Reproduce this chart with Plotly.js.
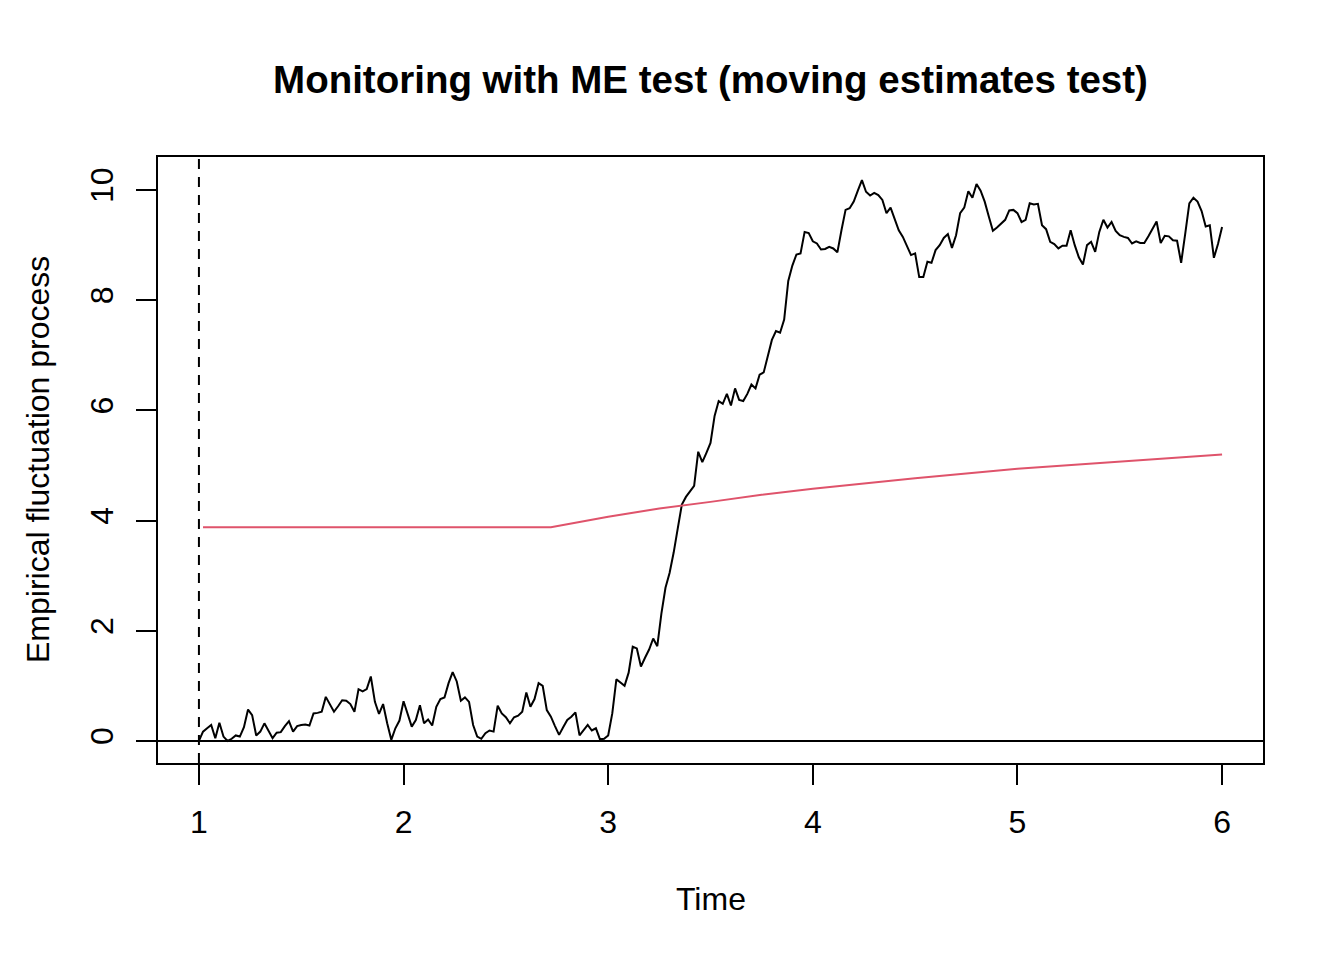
<!DOCTYPE html>
<html>
<head>
<meta charset="utf-8">
<script src="https://cdn.plot.ly/plotly-3.0.1.min.js"></script>
<style>
  body { margin: 0; background: #fff; }
</style>
</head>
<body>
<div id="chart" style="width:1344px;height:960px;"></div>
<script>
// monitoring period: starts at t = 1, 50 observations per time unit
var startTime = 1;
var frequency = 50;

// empirical fluctuation process
var fluctuation = [
  0, 0.17, 0.23, 0.29, 0.05, 0.33, 0.08, 0.0, 0.04, 0.1,
  0.08, 0.25, 0.57, 0.47, 0.1, 0.17, 0.32, 0.17, 0.05, 0.15,
  0.16, 0.27, 0.36, 0.17, 0.27, 0.29, 0.3, 0.28, 0.5, 0.51,
  0.53, 0.80, 0.65, 0.53, 0.63, 0.74, 0.73, 0.67, 0.53, 0.94,
  0.90, 0.94, 1.17, 0.71, 0.49, 0.67, 0.32, 0.02, 0.23, 0.37,
  0.72, 0.49, 0.26, 0.38, 0.65, 0.32, 0.39, 0.28, 0.62, 0.76,
  0.79, 1.05, 1.25, 1.08, 0.73, 0.79, 0.71, 0.29, 0.08, 0.04,
  0.14, 0.19, 0.17, 0.64, 0.50, 0.43, 0.32, 0.43, 0.46, 0.53,
  0.88, 0.62, 0.76, 1.05, 1.0, 0.56, 0.44, 0.27, 0.11, 0.25,
  0.38, 0.44, 0.52, 0.10, 0.2, 0.29, 0.19, 0.23, 0.03, 0.04,
  0.10, 0.5, 1.12, 1.06, 1.0, 1.24, 1.71, 1.68, 1.35, 1.51,
  1.66, 1.86, 1.72, 2.31, 2.78, 3.05, 3.42, 3.86, 4.29, 4.43,
  4.53, 4.63, 5.25, 5.06, 5.23, 5.41, 5.90, 6.17, 6.12, 6.30,
  6.09, 6.40, 6.19, 6.17, 6.30, 6.47, 6.40, 6.65, 6.69, 6.97,
  7.28, 7.44, 7.41, 7.65, 8.35, 8.63, 8.83, 8.85, 9.24, 9.22,
  9.07, 9.03, 8.92, 8.93, 8.97, 8.94, 8.87, 9.27, 9.64, 9.67,
  9.79, 9.99, 10.18, 9.97, 9.90, 9.95, 9.91, 9.82, 9.58, 9.68,
  9.46, 9.27, 9.15, 8.98, 8.82, 8.85, 8.42, 8.42, 8.70, 8.68,
  8.91, 9.0, 9.13, 9.2, 8.95, 9.18, 9.58, 9.68, 9.98, 9.86,
  10.11, 9.99, 9.79, 9.52, 9.26, 9.32, 9.39, 9.46, 9.63, 9.64,
  9.58, 9.42, 9.46, 9.76, 9.74, 9.75, 9.36, 9.29, 9.06, 9.02,
  8.94, 8.99, 8.99, 9.27, 9.0, 8.78, 8.65, 9.0, 9.06, 8.88,
  9.24, 9.46, 9.32, 9.42, 9.26, 9.18, 9.15, 9.13, 9.03, 9.07,
  9.04, 9.04, 9.16, 9.30, 9.43, 9.04, 9.17, 9.16, 9.09, 9.08,
  8.68, 9.21, 9.76, 9.86, 9.79, 9.62, 9.34, 9.36, 8.77, 9.02, 9.33
];

// boundary (critical value curve)
var boundaryTime = [1.02, 2.72, 3.0, 3.25, 3.5, 3.75, 4.0, 4.5, 5.0, 5.5, 6.0];
var boundaryValue = [3.88, 3.88, 4.07, 4.22, 4.34, 4.47, 4.58, 4.77, 4.94, 5.07, 5.20];

var xTicks = [1, 2, 3, 4, 5, 6];
var yTicks = [0, 2, 4, 6, 8, 10];

var time = fluctuation.map(function (v, i) { return startTime + i / frequency; });

var fontFamily = '"Liberation Sans", Arial, Helvetica, sans-serif';

var traces = [
  {
    x: time,
    y: fluctuation,
    type: 'scatter',
    mode: 'lines',
    line: { color: '#000000', width: 2 },
    hoverinfo: 'skip'
  },
  {
    x: boundaryTime,
    y: boundaryValue,
    type: 'scatter',
    mode: 'lines',
    line: { color: '#DF536B', width: 2 },
    hoverinfo: 'skip'
  }
];

var axisCommon = {
  showgrid: false,
  zeroline: false,
  showline: true,
  mirror: true,
  linecolor: '#000000',
  linewidth: 2,
  ticks: 'outside',
  ticklen: 20,
  tickwidth: 2,
  tickcolor: '#000000',
  tickfont: { family: fontFamily, size: 32, color: '#000000' }
};

var layout = {
  width: 1344,
  height: 960,
  showlegend: false,
  paper_bgcolor: '#ffffff',
  plot_bgcolor: '#ffffff',
  margin: { l: 158, r: 81, t: 157, b: 197 },
  title: {
    text: '<b>Monitoring with ME test (moving estimates test)</b>',
    font: { family: fontFamily, size: 38.5, color: '#000000' },
    xref: 'paper',
    x: 0.5,
    xanchor: 'center',
    yref: 'container',
    y: 1 - 80 / 960,
    yanchor: 'middle'
  },
  xaxis: Object.assign({}, axisCommon, {
    range: [0.8, 6.2],
    tickvals: xTicks,
    ticktext: xTicks.map(String),
    ticklabelstandoff: 10
  }),
  yaxis: Object.assign({}, axisCommon, {
    range: [-0.4, 10.6],
    tickvals: yTicks,
    ticktext: yTicks.map(String),
    tickangle: -90,
    ticklabelstandoff: 10
  }),
  shapes: [
    // abline(h = 0)
    {
      type: 'line', xref: 'paper', yref: 'y',
      x0: 0, x1: 1, y0: 0, y1: 0,
      line: { color: '#000000', width: 2 }
    },
    // start of monitoring
    {
      type: 'line', xref: 'x', yref: 'paper',
      x0: startTime, x1: startTime, y0: 0, y1: 1,
      line: { color: '#000000', width: 2, dash: '10px,8px' }
    }
  ],
  annotations: [
    {
      text: 'Time',
      xref: 'paper', yref: 'paper',
      x: 0.5, y: (763 - 899) / 606,
      xanchor: 'center', yanchor: 'middle',
      showarrow: false,
      font: { family: fontFamily, size: 32, color: '#000000' }
    },
    {
      text: 'Empirical fluctuation process',
      xref: 'paper', yref: 'paper',
      x: (38 - 158) / 1105, y: 0.5,
      xanchor: 'center', yanchor: 'middle',
      textangle: -90,
      showarrow: false,
      font: { family: fontFamily, size: 32, color: '#000000' }
    }
  ]
};

Plotly.newPlot('chart', traces, layout, { staticPlot: true, displayModeBar: false });
</script>
</body>
</html>
